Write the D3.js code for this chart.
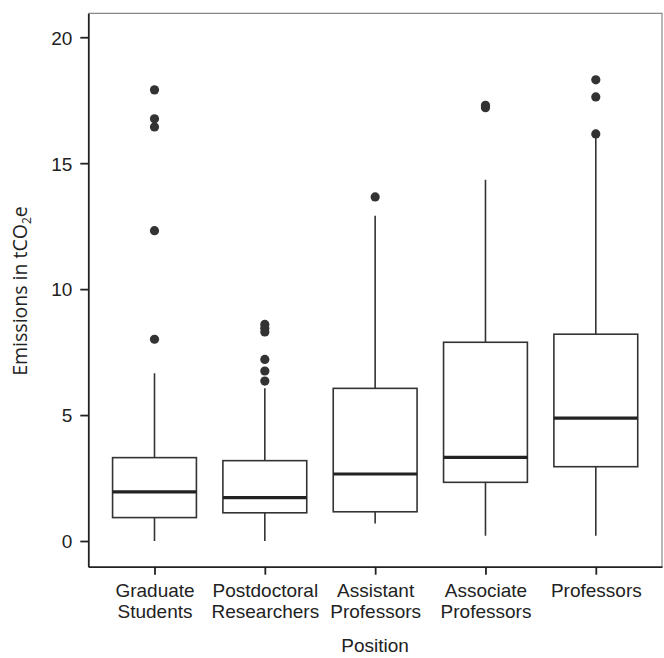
<!DOCTYPE html>
<html>
<head>
<meta charset="utf-8">
<script src="https://cdn.jsdelivr.net/npm/d3@7"></script>
<style>
  body { margin: 0; background: #fff; }
  svg { display: block; }
  .tick text { font-family: "Liberation Sans", Arial, sans-serif; font-size: 19px; fill: #222; }
</style>
</head>
<body>
<svg id="boxplot" width="664" height="658"></svg>
<script>
// values (tCO2e)
const positions = ["Graduate Students", "Postdoctoral Researchers", "Assistant Professors", "Associate Professors", "Professors"];
const tickLines = [["Graduate", "Students"], ["Postdoctoral", "Researchers"], ["Assistant", "Professors"], ["Associate", "Professors"], ["Professors"]];
const whiskerLow = [0.0, 0.0, 0.7, 0.21, 0.21];
const q1 = [0.93, 1.12, 1.16, 2.33, 2.95];
const median = [1.95, 1.72, 2.66, 3.32, 4.88];
const q3 = [3.31, 3.19, 6.06, 7.89, 8.21];
const whiskerHigh = [6.66, 6.06, 12.91, 14.34, 16.06];
const outliers = [
  [8.01, 12.32, 16.44, 16.76, 17.91],
  [6.35, 6.75, 7.21, 8.3, 8.45, 8.6],
  [13.66],
  [17.2, 17.3],
  [16.16, 17.63, 18.31]
];
const yTicks = [0, 5, 10, 15, 20];

const svg = d3.select("#boxplot");
const margin = { top: 13.3, left: 88.3, right: 2, bottom: 91.3 };
const width = +svg.attr("width");
const height = +svg.attr("height");
const innerWidth = width - margin.left - margin.right;
const innerHeight = height - margin.top - margin.bottom;

const data = positions.map((p, i) => ({
  pos: p, lo: whiskerLow[i], q1: q1[i], med: median[i], q3: q3[i], hi: whiskerHigh[i], out: outliers[i]
}));

const xScale = d3.scalePoint().domain(positions).range([0, innerWidth]).padding(0.6);
const yScale = d3.scaleLinear().domain([-1.02, 20.95]).range([innerHeight, 0]);
const boxW = xScale.step() * 0.76;

const chart = svg.append("g").attr("transform", `translate(${margin.left},${margin.top})`);

// top and right frame (light)
chart.append("path")
  .attr("d", `M0,0H${innerWidth}V${innerHeight}`)
  .attr("fill", "none")
  .attr("stroke", "#888")
  .attr("stroke-width", 1.2);

// axes
const yAxis = chart.append("g")
  .call(d3.axisLeft(yScale).tickValues(yTicks).tickSize(8).tickSizeOuter(0).tickPadding(8));
const xAxis = chart.append("g")
  .attr("transform", `translate(0,${innerHeight})`)
  .call(d3.axisBottom(xScale).tickSize(8).tickSizeOuter(0));
[yAxis, xAxis].forEach(a => {
  a.attr("font-size", null).attr("font-family", null);
  a.select(".domain").attr("stroke", "#222").attr("stroke-width", 1.8);
  a.selectAll(".tick line").attr("stroke", "#222").attr("stroke-width", 1.8);
});
yAxis.selectAll(".tick text").attr("dy", "0.36em");

// two-line category labels, one text per line
xAxis.selectAll(".tick text").remove();
xAxis.selectAll(".tick").each(function (d, i) {
  d3.select(this).selectAll(".lbl").data(tickLines[i]).enter().append("text")
    .attr("class", "lbl")
    .attr("fill", "#222")
    .attr("text-anchor", "middle")
    .attr("x", 0)
    .attr("y", (line, j) => 30 + j * 21.6)
    .text(line => line);
});

const boxes = chart.selectAll(".box").data(data).enter().append("g").attr("class", "box")
  .attr("transform", d => `translate(${xScale(d.pos)},0)`);

// whiskers
boxes.append("line")
  .attr("x1", 0).attr("x2", 0)
  .attr("y1", d => yScale(d.hi)).attr("y2", d => yScale(d.q3))
  .attr("stroke", "#333").attr("stroke-width", 1.6);
boxes.append("line")
  .attr("x1", 0).attr("x2", 0)
  .attr("y1", d => yScale(d.q1)).attr("y2", d => yScale(d.lo))
  .attr("stroke", "#333").attr("stroke-width", 1.6);

// box
boxes.append("rect")
  .attr("x", -boxW / 2)
  .attr("width", boxW)
  .attr("y", d => yScale(d.q3))
  .attr("height", d => yScale(d.q1) - yScale(d.q3))
  .attr("fill", "#fff")
  .attr("stroke", "#333")
  .attr("stroke-width", 1.6);

// median
boxes.append("line")
  .attr("x1", -boxW / 2).attr("x2", boxW / 2)
  .attr("y1", d => yScale(d.med)).attr("y2", d => yScale(d.med))
  .attr("stroke", "#222").attr("stroke-width", 3.2);

// outliers
boxes.selectAll(".outlier").data(d => d.out).enter().append("circle")
  .attr("class", "outlier")
  .attr("cx", 0)
  .attr("cy", d => yScale(d))
  .attr("r", 4.6)
  .attr("fill", "#333");

// axis titles
const yLab = chart.append("text")
  .attr("transform", `translate(-61,${innerHeight / 2 + 1}) rotate(-90)`)
  .attr("text-anchor", "middle")
  .attr("fill", "#222")
  .style("font-family", "'Open Sans', 'Noto Sans', sans-serif")
  .style("font-size", "19.5px");
yLab.append("tspan").text("Emissions in tCO");
yLab.append("tspan").attr("dy", 4).style("font-size", "12px").text("2");
yLab.append("tspan").attr("dy", -4).text("e");

chart.append("text")
  .attr("x", innerWidth / 2)
  .attr("y", innerHeight + 85)
  .attr("text-anchor", "middle")
  .attr("fill", "#222")
  .style("font-family", "'Liberation Sans', Arial, sans-serif")
  .style("font-size", "19px")
  .text("Position");
</script>
</body>
</html>
